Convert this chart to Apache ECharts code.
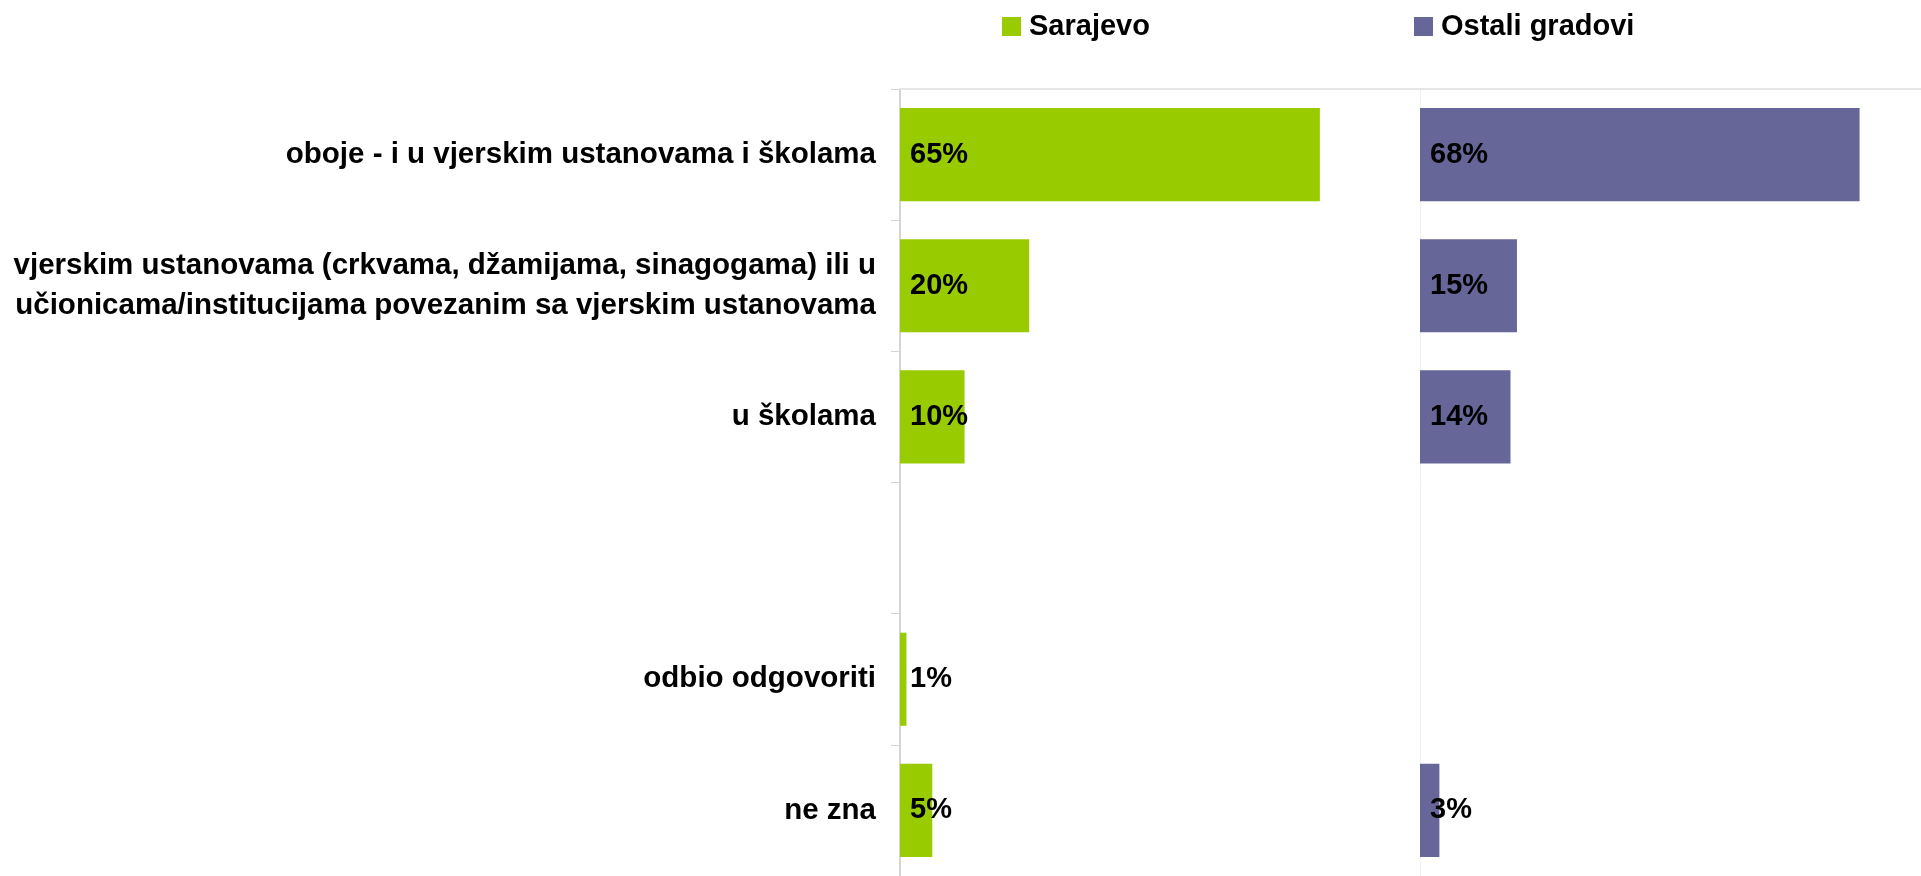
<!DOCTYPE html>
<html>
<head>
<meta charset="utf-8">
<script src="https://cdn.jsdelivr.net/npm/echarts@6/dist/echarts.min.js"></script>
<style>
  html, body { margin: 0; padding: 0; background: #fff; }
  #main { width: 1921px; height: 876px; }
</style>
</head>
<body>
<div id="main"></div>
<script>
    // odgovori (prazna kategorija ostavlja razmak kao u originalu)
    var categories = [
        'oboje - i u vjerskim ustanovama i školama',
        'vjerskim ustanovama (crkvama, džamijama, sinagogama) ili u\nučionicama/institucijama povezanim sa vjerskim ustanovama',
        'u školama',
        '',
        'odbio odgovoriti',
        'ne zna'
    ];
    var sarajevo = [65, 20, 10, null, 1, 5];
    var ostaliGradovi = [68, 15, 14, null, null, 3];

    var FONT = '"Liberation Sans", Arial, sans-serif';
    var green = '#99cc00';
    var purple = '#666699';

    var chartDom = document.getElementById('main');
    var myChart = echarts.init(chartDom);

    function pct(p) {
        return p.value == null ? '' : p.value + '%';
    }

    var barLabel = {
        show: true,
        position: 'insideLeft',
        distance: 10,
        formatter: pct,
        color: '#000',
        fontFamily: FONT,
        fontWeight: 'bold',
        fontSize: 29
    };

    var legendText = { fontSize: 29, fontWeight: 'bold', color: '#000', fontFamily: FONT, padding: [0, 0, 0, 3] };

    var option = {
        animation: false,
        textStyle: { fontFamily: FONT },
        legend: [
            {
                data: ['Sarajevo'],
                left: 1002, top: 12, padding: 0,
                icon: 'rect', itemWidth: 19, itemHeight: 19, itemGap: 6,
                textStyle: legendText
            },
            {
                data: ['Ostali gradovi'],
                left: 1414, top: 12, padding: 0,
                icon: 'rect', itemWidth: 19, itemHeight: 19, itemGap: 6,
                textStyle: legendText
            }
        ],
        grid: [
            { left: 900, top: 89, width: 520, height: 792 },
            { left: 1420, top: 89, right: 0, height: 792 }
        ],
        xAxis: [
            {
                gridIndex: 0, type: 'value', min: 0, max: 80.5, position: 'top',
                axisLine: { show: true, lineStyle: { color: '#e6e6e6', width: 2 } },
                axisTick: { show: false }, axisLabel: { show: false }, splitLine: { show: false }
            },
            {
                gridIndex: 1, type: 'value', min: 0, max: 77.5, position: 'top',
                axisLine: { show: true, lineStyle: { color: '#e6e6e6', width: 2 } },
                axisTick: { show: false }, axisLabel: { show: false }, splitLine: { show: false }
            }
        ],
        yAxis: [
            {
                gridIndex: 0, type: 'category', data: categories, inverse: true,
                axisLine: { lineStyle: { color: '#d4d4d4', width: 2 } },
                axisTick: { show: true, length: 9, lineStyle: { color: '#d4d4d4', width: 1 } },
                axisLabel: {
                    margin: 24, color: '#000', fontSize: 29.5, fontWeight: 'bold',
                    fontFamily: FONT, align: 'right', lineHeight: 40
                }
            },
            {
                gridIndex: 1, type: 'category', data: categories, inverse: true,
                axisLine: { lineStyle: { color: '#f0f0f0', width: 1 } },
                axisTick: { show: false }, axisLabel: { show: false }
            }
        ],
        series: [
            {
                name: 'Sarajevo', type: 'bar', xAxisIndex: 0, yAxisIndex: 0,
                data: sarajevo, barCategoryGap: '29%',
                itemStyle: { color: green }, label: barLabel
            },
            {
                name: 'Ostali gradovi', type: 'bar', xAxisIndex: 1, yAxisIndex: 1,
                data: ostaliGradovi, barCategoryGap: '29%',
                itemStyle: { color: purple }, label: barLabel
            }
        ]
    };

    myChart.setOption(option);
</script>
</body>
</html>
